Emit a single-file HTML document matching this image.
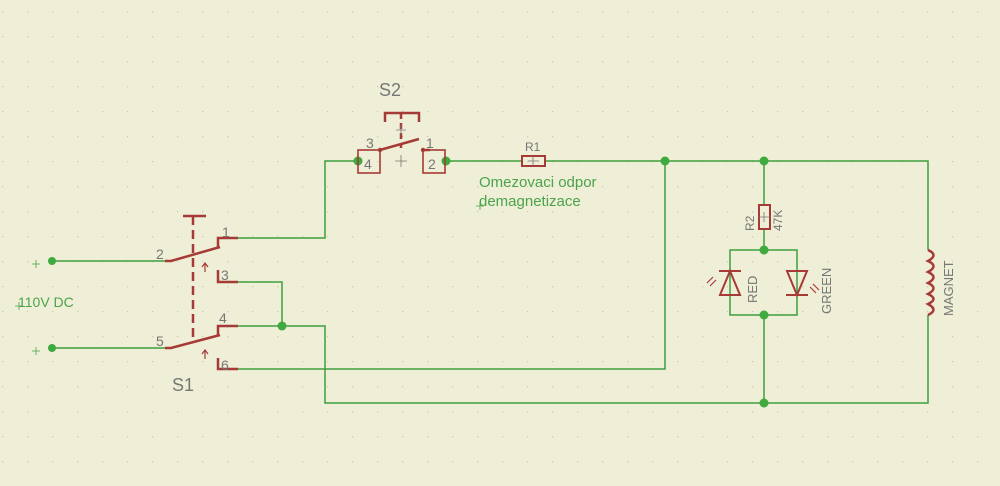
<!DOCTYPE html>
<html><head><style>
html,body{margin:0;padding:0;background:#efeed6;}
svg{display:block}
text{font-family:"Liberation Sans",sans-serif;}
</style></head><body>
<svg width="1000" height="486" viewBox="0 0 1000 486" xmlns="http://www.w3.org/2000/svg">
<defs>
<pattern id="g" width="25" height="25" patternUnits="userSpaceOnUse" x="2" y="11">
<rect x="0" y="0" width="1.2" height="1.2" fill="#c9c8b0"/>
</pattern>
</defs>
<rect width="1000" height="486" fill="#efeed6"/>
<rect width="1000" height="486" fill="url(#g)"/>
<g stroke="#3f9e3f" stroke-width="1.5" fill="none">
<path d="M52 261H165M52 348H165"/>
<path d="M238 238H325V161H358"/>
<path d="M238 282H282V326"/>
<path d="M238 326H325V403H928V315"/>
<path d="M238 369H665V161"/>
<path d="M446 161H522M545 161H928V250"/>
<path d="M764 161V205M764 229V250"/>
<path d="M730 250H797V315H730ZM730 250V315"/>
<path d="M764 315V403"/>
</g>
<g fill="#3faa3f">
<circle cx="52" cy="261" r="4"/><circle cx="52" cy="348" r="4"/>
<circle cx="282" cy="326" r="4.5"/><circle cx="358" cy="161" r="4.5"/><circle cx="446" cy="161" r="4.5"/>
<circle cx="665" cy="161" r="4.5"/><circle cx="764" cy="161" r="4.5"/>
<circle cx="764" cy="250" r="4.5"/><circle cx="764" cy="315" r="4.5"/><circle cx="764" cy="403" r="4.5"/>
</g>
<g stroke="#a53a36" stroke-width="2.5" fill="none">
<path d="M183 216H206"/>
<path d="M193 216V340" stroke-dasharray="9,5"/>
<path d="M165 261H171L220 247"/>
<path d="M218 248V238H238"/>
<path d="M218 270V282H238"/>
<path d="M218 336V326H238"/>
<path d="M165 348H171L220 335"/>
<path d="M218 358V369H238"/>
<path d="M385 122V113H419V122"/>
<path d="M401 113V148" stroke-dasharray="6,4"/>
<path d="M380 150L419 139"/>
<path d="M422 150H430"/>
<rect x="358" y="150" width="22" height="23" stroke-width="1.6"/>
<rect x="423" y="150" width="22" height="23" stroke-width="1.6"/>
<rect x="522" y="156" width="23" height="10" stroke-width="2"/>
<rect x="759" y="205" width="11" height="24" stroke-width="2"/>
<path d="M719 271H741M730 271L720 295H740Z" stroke-width="2"/>
<path d="M786 295H808M797 295L787 271H807Z" stroke-width="2"/>
<path d="M928 250Q939 255 928 261Q939 266 928 272Q939 277 928 283Q939 288 928 294Q939 299 928 304Q939 310 928 315" stroke-width="2.5"/>
</g>
<g fill="#a53a36"><circle cx="380" cy="150" r="2.2"/><circle cx="423" cy="150" r="2.2"/></g>
<g stroke="#a53a36" stroke-width="1.2" fill="none">
<path d="M205 272V264M202 267L205 263L208 267"/>
<path d="M205 359V351M202 354L205 350L208 354"/>
<path d="M716 280L710 286M713 277L707 283"/>
<path d="M810 287L816 293M813 284L819 290"/>
</g>
<g stroke="#777" stroke-width="0.8">
<path d="M396 130H406M401 125V135M395 161H407M401 155V167"/>
<path d="M528 161H539M533 156V166M759 217H770M764 212V222"/>
</g>
<g fill="#777" font-size="14">
<text x="222" y="237">1</text><text x="156" y="259">2</text><text x="221" y="280">3</text>
<text x="219" y="323">4</text><text x="156" y="346">5</text><text x="221" y="370">6</text>
<text x="172" y="391" font-size="18">S1</text><text x="379" y="96" font-size="18">S2</text>
<text x="366" y="148">3</text><text x="426" y="148">1</text>
<text x="364" y="169">4</text><text x="428" y="169">2</text>
<text x="525" y="151" font-size="12">R1</text>
<text transform="translate(754 231) rotate(-90)" font-size="12">R2</text>
<text transform="translate(782 231) rotate(-90)" font-size="12">47K</text>
<text transform="translate(757 303) rotate(-90)" font-size="13">RED</text>
<text transform="translate(831 314) rotate(-90)" font-size="13">GREEN</text>
<text transform="translate(953 316) rotate(-90)" font-size="13">MAGNET</text>
</g>
<g fill="#4aa44a" font-size="15">
<text x="479" y="187">Omezovaci odpor</text>
<text x="479" y="206">demagnetizace</text>
<text x="18" y="307" font-size="14">110V DC</text>
</g>
<g stroke="#4aa44a" stroke-width="0.8">
<path d="M32 264H40M36 260V268M32 351H40M36 347V355M15 306H23M19 302V310M476 206H484M480 202V210"/>
</g>
</svg>
</body></html>
